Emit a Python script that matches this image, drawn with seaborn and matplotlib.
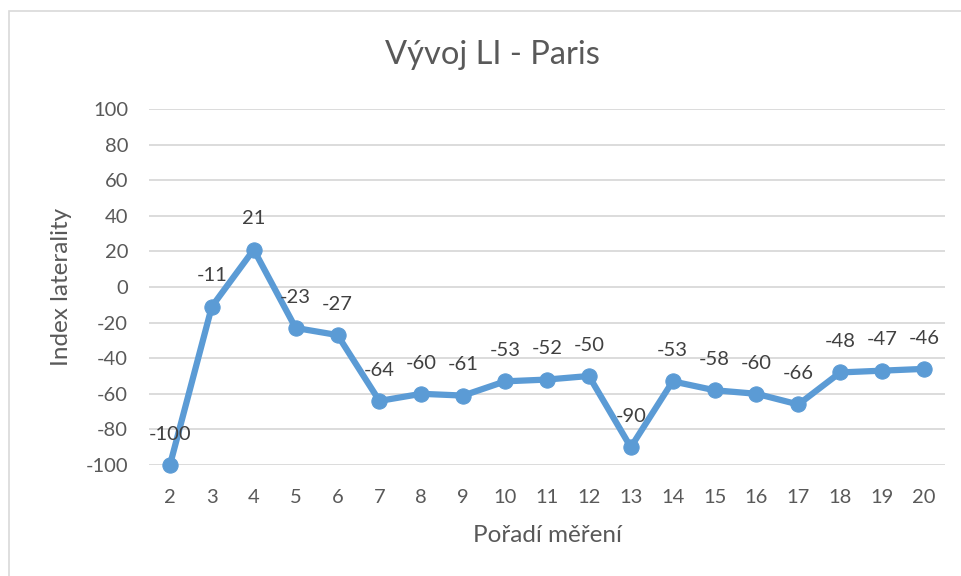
import matplotlib
matplotlib.use("Agg")
import matplotlib.pyplot as plt
import seaborn as sns
import pandas as pd
from matplotlib.patches import Rectangle

categories = ["2", "3", "4", "5", "6", "7", "8", "9", "10", "11", "12",
              "13", "14", "15", "16", "17", "18", "19", "20"]
values = [-100, -11, 21, -23, -27, -64, -60, -61, -53, -52, -50,
          -90, -53, -58, -60, -66, -48, -47, -46]
y_ticks = [-100, -80, -60, -40, -20, 0, 20, 40, 60, 80, 100]

title = "Vývoj LI - Paris"
xlabel = "Pořadí měření"
ylabel = "Index laterality"

sns.set_theme(style="white")
plt.rcParams['font.family'] = ['Lato', 'DejaVu Sans']

df = pd.DataFrame({"pos": range(len(categories)), "val": values})

fig = plt.figure(figsize=(9.62, 5.76), dpi=100)
W, H = 962, 576
ax = fig.add_axes([149 / W, 1 - 465 / H, (945 - 149) / W, (465 - 109) / H])

text_color = "#595959"
line_color = "#5B9BD5"
grid_color = "#D9D9D9"

# chart frame
fig.patches.append(Rectangle((9 / W, -0.1), 1.2, 1 - 11 / H + 0.1,
                             transform=fig.transFigure, fill=False,
                             edgecolor="#D9D9D9", linewidth=1.2, zorder=0))

for yv in y_ticks:
    ax.axhline(yv, color=grid_color, linewidth=1.3, zorder=0)

sns.lineplot(data=df, x="pos", y="val", ax=ax, color=line_color,
             linewidth=4.5, marker="o", markersize=11,
             markeredgecolor=line_color, markerfacecolor=line_color,
             zorder=3, clip_on=False)

for i, v in enumerate(values):
    ax.annotate(str(v), (i, v), xytext=(0, 16), textcoords="offset points",
                ha="center", va="bottom", fontsize=14.5, color="#404040")

ax.set_xlim(-0.5, len(categories) - 0.5)
ax.set_ylim(-100, 100)
ax.set_xticks(range(len(categories)))
ax.set_xticklabels(categories)
ax.set_yticks(y_ticks)
ax.set_yticklabels([str(t) for t in y_ticks])
ax.tick_params(axis="both", length=0, labelsize=14.5, labelcolor=text_color)
ax.tick_params(axis="x", pad=17)
ax.tick_params(axis="y", pad=15)
for s in ax.spines.values():
    s.set_visible(False)
ax.set_xlabel("")
ax.set_ylabel("")

fig.text(492 / W, 1 - 55 / H, title, ha="center", va="center",
         fontsize=23.5, color=text_color)
fig.text(547 / W, 1 - 535 / H, xlabel, ha="center", va="center",
         fontsize=17.5, color=text_color)
fig.text(62 / W, 1 - 287 / H, ylabel, ha="center", va="center",
         rotation=90, fontsize=17.5, color=text_color)

fig.savefig("out.png", dpi=100, facecolor="white")
